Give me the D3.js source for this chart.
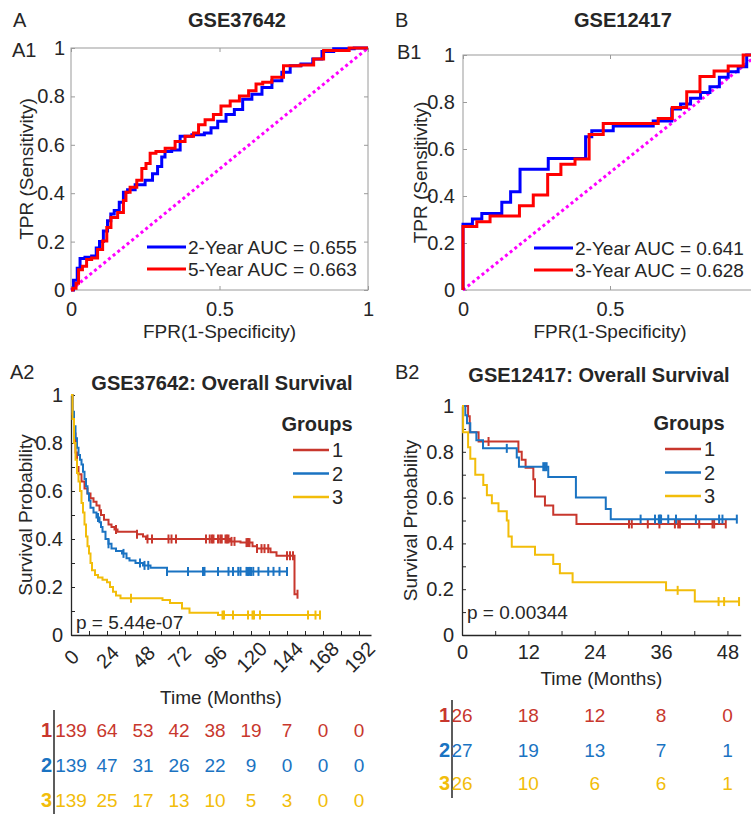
<!DOCTYPE html>
<html>
<head>
<meta charset="utf-8">
<script src="https://cdn.jsdelivr.net/npm/d3@7"></script>
<style>
  body { margin: 0; background: #fff; }
  text { font-family: "Liberation Sans", Arial, sans-serif; fill: #262626; }
</style>
</head>
<body>
<div id="chart"></div>
<script>
// ---- ROC data, GSE37642 ----
var rocA_fpr2 = [0,0.017,0.025,0.036,0.058,0.081,0.089,0.103,0.115,0.131,0.137,0.154,0.171,0.182,0.199,0.233,0.266,0.283,0.30,0.311,0.322,0.356,0.379,0.435,0.463,0.48,0.508,0.536,0.564,0.592,0.626,0.66,0.693,0.727,0.749,0.80,0.828,0.862,0.907,1];
var rocA_tpr2 = [0,0.04,0.09,0.13,0.135,0.14,0.174,0.20,0.244,0.286,0.314,0.328,0.363,0.404,0.414,0.435,0.453,0.48,0.51,0.55,0.572,0.579,0.635,0.642,0.649,0.67,0.697,0.725,0.746,0.788,0.809,0.837,0.865,0.90,0.927,0.934,0.955,0.986,0.997,1];
var rocA_fpr5 = [0,0.013,0.021,0.03,0.047,0.058,0.081,0.098,0.115,0.126,0.143,0.171,0.182,0.188,0.21,0.233,0.244,0.261,0.272,0.30,0.334,0.367,0.401,0.424,0.435,0.468,0.491,0.519,0.553,0.581,0.615,0.631,0.66,0.693,0.738,0.806,0.828,0.873,1];
var rocA_tpr5 = [0,0.007,0.028,0.084,0.098,0.126,0.132,0.167,0.202,0.258,0.30,0.32,0.37,0.404,0.425,0.453,0.502,0.523,0.565,0.572,0.586,0.614,0.635,0.649,0.683,0.704,0.725,0.76,0.781,0.802,0.823,0.851,0.858,0.879,0.927,0.93,0.955,0.99,1];

// ---- ROC data, GSE12417 ----
var rocB_fpr2 = [0,0,0.032,0.064,0.132,0.162,0.194,0.29,0.417,0.438,0.511,0.647,0.71,0.74,0.774,0.808,0.84,0.872,0.902,0.936,0.965,1];
var rocB_tpr2 = [0,0.28,0.302,0.326,0.373,0.418,0.514,0.56,0.652,0.678,0.698,0.719,0.77,0.791,0.816,0.84,0.865,0.905,0.929,0.95,1,1];
var rocB_fpr3 = [0,0,0.047,0.092,0.192,0.239,0.288,0.333,0.381,0.429,0.477,0.664,0.712,0.761,0.806,0.854,0.902,0.953,1];
var rocB_tpr3 = [0,0.27,0.29,0.315,0.359,0.404,0.492,0.535,0.557,0.662,0.709,0.73,0.777,0.844,0.908,0.932,0.953,1,1];

// ---- KM data, GSE37642 (step times in months, survival after step) ----
var kmA_t1 = [0,1,2,3,4,5,7,9,11,13,15,17,19,20,22,25,27,29,31,44,48,50,106,113,121,124,133,137,149];
var kmA_s1 = [1,0.92,0.84,0.76,0.70,0.67,0.64,0.61,0.59,0.57,0.555,0.54,0.52,0.50,0.48,0.46,0.45,0.44,0.43,0.42,0.41,0.40,0.39,0.385,0.37,0.36,0.345,0.33,0.17];
var kmA_end1 = 151;
var kmA_c1 = [30,44,51,54,65,67,70,90,92.5,94,95,98,99.5,100.5,103,104,105,107,109,117,118,119,124,127,129,131.5,144,146,148,151];
var kmA_t2 = [0,1,2,3,4,5,6,7,8,9,10,11,12,13,15,17,19,20,21,23,25,27,30,34,37,39,43,48,53,64];
var kmA_s2 = [1,0.93,0.87,0.82,0.78,0.75,0.73,0.71,0.68,0.65,0.62,0.59,0.56,0.53,0.51,0.49,0.47,0.45,0.43,0.40,0.38,0.36,0.35,0.34,0.32,0.31,0.30,0.29,0.28,0.265];
var kmA_end2 = 144;
var kmA_c2 = [18,25,35,46,49,51.5,64,78,88,89,98,105,108,111.5,113,117,118,119,120,121.5,125,131.5,135,139,144];
var kmA_t3 = [0,1,2,3,4,5,6,7,8,9,10,11,12,13,14,16,18,21,24,26,28,30,33,61,66,74,79,98];
var kmA_s3 = [1,0.9,0.8,0.73,0.675,0.64,0.6,0.55,0.51,0.46,0.41,0.37,0.34,0.30,0.27,0.25,0.24,0.23,0.22,0.2,0.18,0.165,0.153,0.146,0.133,0.11,0.093,0.083];
var kmA_end3 = 166;
var kmA_c3 = [40,101,102,108,118,121,122,126,158,163,166];

// ---- KM data, GSE12417 ----
var kmB_t1 = [0,1.1,1.4,3,10.2,10.8,11.5,12.9,13.2,15,16.5,20.7];
var kmB_s1 = [1,0.955,0.885,0.845,0.80,0.765,0.73,0.68,0.605,0.565,0.525,0.485];
var kmB_end1 = 47.7;
var kmB_c1 = [4.8,30.2,30.7,33.6,35.7,38.5,39.1,39.4,42.9,45.3,45.6,47.7];
var kmB_t2 = [0,0.6,0.9,1.5,2.6,3.8,9.9,10.3,15.6,20.6,26,26.9];
var kmB_s2 = [1,0.96,0.925,0.885,0.85,0.815,0.775,0.735,0.69,0.60,0.55,0.506];
var kmB_end2 = 49.7;
var kmB_c2 = [8.1,14.7,15,15.3,32.3,34.9,35.6,35.8,36,37.3,38.7,42.3,46.5,47.1,49.7];
var kmB_t3 = [0,0.2,1.1,1.5,2.4,3.85,4.5,5.4,6.6,8.1,8.4,9,13.2,16.5,17.7,20,36.9,42.1];
var kmB_s3 = [1,0.885,0.82,0.77,0.70,0.655,0.61,0.575,0.54,0.50,0.43,0.385,0.35,0.31,0.27,0.23,0.195,0.146];
var kmB_end3 = 50.1;
var kmB_c3 = [39,46.4,47.4,50.1];

// ---- numbers at risk ----
var riskA_times = [0,24,48,72,96,120,144,168,192];
var riskA_1 = [139,64,53,42,38,19,7,0,0];
var riskA_2 = [139,47,31,26,22,9,0,0,0];
var riskA_3 = [139,25,17,13,10,5,3,0,0];
var riskB_times = [0,12,24,36,48];
var riskB_1 = [26,18,12,8,0];
var riskB_2 = [27,19,13,7,1];
var riskB_3 = [26,10,6,6,1];

var groupColors = ["#c8372d", "#1a73c2", "#f2bd0a"];

var svg = d3.select("#chart").append("svg")
    .attr("width", 751)
    .attr("height", 814);
svg.append("rect").attr("width", 751).attr("height", 814).attr("fill", "#fff");

function label(x, y, str, size, opts) {
    opts = opts || {};
    var t = svg.append("text")
        .attr("x", x).attr("y", y)
        .attr("text-anchor", opts.anchor || "start")
        .style("font-size", size + "px")
        .text(str);
    if (opts.bold) t.style("font-weight", "bold");
    if (opts.fill) t.style("fill", opts.fill);
    if (opts.rotate) t.attr("transform", "rotate(-90," + x + "," + y + ")");
    if (opts.middle) t.attr("dominant-baseline", "central");
    return t;
}

function rocPanel(o) {
    var x = d3.scaleLinear().domain([0, 1]).range([o.left, o.right]);
    var y = d3.scaleLinear().domain([0, 1]).range([o.bottom, o.top]);
    var g = svg.append("g");
    var fmt = d3.format("~g");

    g.append("rect")
        .attr("x", o.left).attr("y", o.top)
        .attr("width", o.right - o.left).attr("height", o.bottom - o.top)
        .attr("fill", "none").attr("stroke", "#9a9a9a").attr("stroke-width", 1);

    function styleAxis(sel) {
        sel.select(".domain").remove();
        sel.selectAll("line").attr("stroke", "#9a9a9a");
        sel.selectAll("text").style("font-size", "20px").style("fill", "#262626");
    }
    // the right part of panel B1 falls outside the page, so its "1" label is not shown
    g.append("g").attr("transform", "translate(0," + o.bottom + ")")
        .call(d3.axisBottom(x).tickValues([0, 0.5, 1]).tickSize(-4).tickPadding(12)
            .tickFormat(function (d) { return x(d) < 745 ? fmt(d) : ""; }))
        .call(styleAxis);
    g.append("g").attr("transform", "translate(0," + o.top + ")")
        .call(d3.axisTop(x).tickValues([0, 0.5, 1]).tickFormat("").tickSize(-4))
        .call(styleAxis);
    g.append("g").attr("transform", "translate(" + o.left + ",0)")
        .call(d3.axisLeft(y).tickValues([0, 0.2, 0.4, 0.6, 0.8, 1]).tickFormat(fmt).tickSize(-4).tickPadding(o.pad))
        .call(styleAxis);
    g.append("g").attr("transform", "translate(" + o.right + ",0)")
        .call(d3.axisRight(y).tickValues([0, 0.2, 0.4, 0.6, 0.8, 1]).tickFormat("").tickSize(-4))
        .call(styleAxis);

    // chance line
    g.append("path")
        .attr("d", d3.line()([[x(0), y(0)], [x(1), y(1)]]))
        .attr("stroke", "#ff00ff").attr("stroke-width", 3)
        .attr("stroke-dasharray", "3,3").attr("fill", "none");

    var line = d3.line().x(function (d) { return x(d[0]); }).y(function (d) { return y(d[1]); }).curve(o.curve);
    o.series.forEach(function (s) {
        var pts = s.fpr.map(function (f, i) { return [f, s.tpr[i]]; });
        g.append("path").attr("d", line(pts))
            .attr("stroke", s.color).attr("stroke-width", 3).attr("fill", "none");
    });

    // legend
    o.series.forEach(function (s, i) {
        var ly = o.legendY + i * 22;
        g.append("line").attr("x1", o.legendX).attr("x2", o.legendX + 39)
            .attr("y1", ly).attr("y2", ly).attr("stroke", s.color).attr("stroke-width", 3);
        label(o.legendX + 41, ly, s.name, 19, { middle: true });
    });

    label(x(0.5), 338, "FPR(1-Specificity)", 19, { anchor: "middle" });
    label(o.yLabelX, (o.top + o.bottom) / 2, "TPR (Sensitivity)", 19, { anchor: "middle", rotate: true });
}

function kmPanel(o) {
    var x = d3.scaleLinear().domain([0, o.xmax]).range([o.left, o.right]);
    var y = d3.scaleLinear().domain([0, 1]).range([o.bottom, o.top]);
    var g = svg.append("g");

    function styleAxis(sel) {
        sel.select(".domain").attr("stroke", "#262626").attr("stroke-width", 1.3);
        sel.selectAll("line").attr("stroke", "#262626");
        sel.selectAll("text").style("font-size", "20px").style("fill", "#262626");
    }
    var yTicks = d3.range(0, 11).map(function (d) { return d / 10; });
    g.append("g").attr("transform", "translate(" + o.left + ",0)")
        .call(d3.axisLeft(y).tickValues(yTicks).tickSize(-4).tickSizeOuter(0).tickPadding(8)
            .tickFormat(function (d) { return Math.round(d * 10) % 2 === 0 ? d3.format("~g")(d) : ""; }))
        .call(styleAxis);
    var xAxis = g.append("g").attr("transform", "translate(0," + o.bottom + ")")
        .call(d3.axisBottom(x).tickValues(d3.range(0, o.tickMax + 1, o.minor)).tickSize(-4).tickSizeOuter(0).tickPadding(10)
            .tickFormat(function (d) { return d % o.major === 0 ? d : ""; }))
        .call(styleAxis);
    if (o.rotate) {
        xAxis.selectAll(".tick text")
            .attr("y", null).attr("dy", null)
            .attr("text-anchor", "middle").attr("dominant-baseline", "central")
            .attr("transform", "translate(0,22) rotate(-45)");
    }

    var line = d3.line().x(function (d) { return x(d[0]); }).y(function (d) { return y(d[1]); }).curve(d3.curveStepAfter);
    o.groups.forEach(function (gr, gi) {
        var pts = gr.t.map(function (t, i) { return [t, gr.s[i]]; });
        pts.push([gr.end, gr.s[gr.s.length - 1]]);
        g.append("path").attr("d", line(pts))
            .attr("stroke", groupColors[gi]).attr("stroke-width", 2).attr("fill", "none");
        // censor marks
        gr.c.forEach(function (c) {
            var idx = d3.bisectRight(gr.t, c) - 1;
            var sv = gr.s[Math.max(idx, 0)];
            g.append("line")
                .attr("x1", x(c)).attr("x2", x(c))
                .attr("y1", y(sv) - 4.5).attr("y2", y(sv) + 4.5)
                .attr("stroke", groupColors[gi]).attr("stroke-width", 2);
        });
    });

    // legend
    label(o.legX + 24, o.legY, "Groups", 20, { anchor: "middle", bold: true, middle: true });
    ["1", "2", "3"].forEach(function (n, i) {
        var ly = o.legY + 26 + i * 23.5;
        g.append("line").attr("x1", o.legX).attr("x2", o.legX + 36)
            .attr("y1", ly).attr("y2", ly).attr("stroke", groupColors[i]).attr("stroke-width", 2.5);
        label(o.legX + 39, ly, n, 20, { middle: true });
    });

    label(o.left + 5, o.pY, o.pText, 19, { middle: true });
    label((o.left + o.right) / 2, o.xLabelY, "Time (Months)", 19, { anchor: "middle" });
    label(o.yLabelX, (o.top + o.bottom) / 2, "Survival Probability", 19, { anchor: "middle", rotate: true });
    label(o.titleX, o.titleY, o.title, 20, { anchor: "middle", bold: true });

    // numbers at risk
    g.append("line").attr("x1", o.riskLineX).attr("x2", o.riskLineX)
        .attr("y1", o.riskTop).attr("y2", o.riskBottom).attr("stroke", "#262626").attr("stroke-width", 1.5);
    o.risk.forEach(function (row, ri) {
        var ry = o.riskY[ri];
        label(o.riskLineX - 2, ry, String(ri + 1), 20, { anchor: "end", bold: true, fill: groupColors[ri], middle: true });
        row.forEach(function (v, ci) {
            label(x(o.riskTimes[ci]), ry, String(v), 19, { anchor: "middle", fill: groupColors[ri], middle: true });
        });
    });
}

// panel letters and headings
label(13, 27, "A", 20);
label(395, 27, "B", 20);
label(237, 27, "GSE37642", 20, { anchor: "middle", bold: true });
label(623, 27, "GSE12417", 20, { anchor: "middle", bold: true });
label(12, 57, "A1", 20);
label(397, 59, "B1", 20);
label(10, 379, "A2", 20);
label(395, 379, "B2", 20);

rocPanel({
    left: 71, right: 368, top: 48, bottom: 290, pad: 6, yLabelX: 33,
    curve: d3.curveStep, legendX: 147, legendY: 247,
    series: [
        { fpr: rocA_fpr2, tpr: rocA_tpr2, color: "#0000ff", name: "2-Year AUC = 0.655" },
        { fpr: rocA_fpr5, tpr: rocA_tpr5, color: "#ff0000", name: "5-Year AUC = 0.663" }
    ]
});
rocPanel({
    left: 463, right: 757, top: 55, bottom: 290, pad: 8, yLabelX: 427,
    curve: d3.curveStepAfter, legendX: 534, legendY: 248,
    series: [
        { fpr: rocB_fpr2, tpr: rocB_tpr2, color: "#0000ff", name: "2-Year AUC = 0.641" },
        { fpr: rocB_fpr3, tpr: rocB_tpr3, color: "#ff0000", name: "3-Year AUC = 0.628" }
    ]
});

kmPanel({
    left: 71, right: 371, top: 395, bottom: 635, xmax: 200, tickMax: 192, minor: 12, major: 24, rotate: true,
    groups: [
        { t: kmA_t1, s: kmA_s1, end: kmA_end1, c: kmA_c1 },
        { t: kmA_t2, s: kmA_s2, end: kmA_end2, c: kmA_c2 },
        { t: kmA_t3, s: kmA_s3, end: kmA_end3, c: kmA_c3 }
    ],
    legX: 293, legY: 424, pText: "p = 5.44e-07", pY: 622,
    xLabelY: 704, yLabelX: 32, title: "GSE37642: Overall Survival", titleX: 222, titleY: 390,
    risk: [riskA_1, riskA_2, riskA_3], riskTimes: riskA_times, riskY: [730, 765, 800],
    riskLineX: 54, riskTop: 710, riskBottom: 814
});
kmPanel({
    left: 462, right: 740.7, top: 406, bottom: 635, xmax: 50.4, tickMax: 48, minor: 6, major: 12, rotate: false,
    groups: [
        { t: kmB_t1, s: kmB_s1, end: kmB_end1, c: kmB_c1 },
        { t: kmB_t2, s: kmB_s2, end: kmB_end2, c: kmB_c2 },
        { t: kmB_t3, s: kmB_s3, end: kmB_end3, c: kmB_c3 }
    ],
    legX: 665, legY: 423, pText: "p = 0.00344", pY: 612,
    xLabelY: 685, yLabelX: 417, title: "GSE12417: Overall Survival", titleX: 599, titleY: 382,
    risk: [riskB_1, riskB_2, riskB_3], riskTimes: riskB_times, riskY: [715, 750, 783],
    riskLineX: 452, riskTop: 700, riskBottom: 798
});
</script>
</body>
</html>
